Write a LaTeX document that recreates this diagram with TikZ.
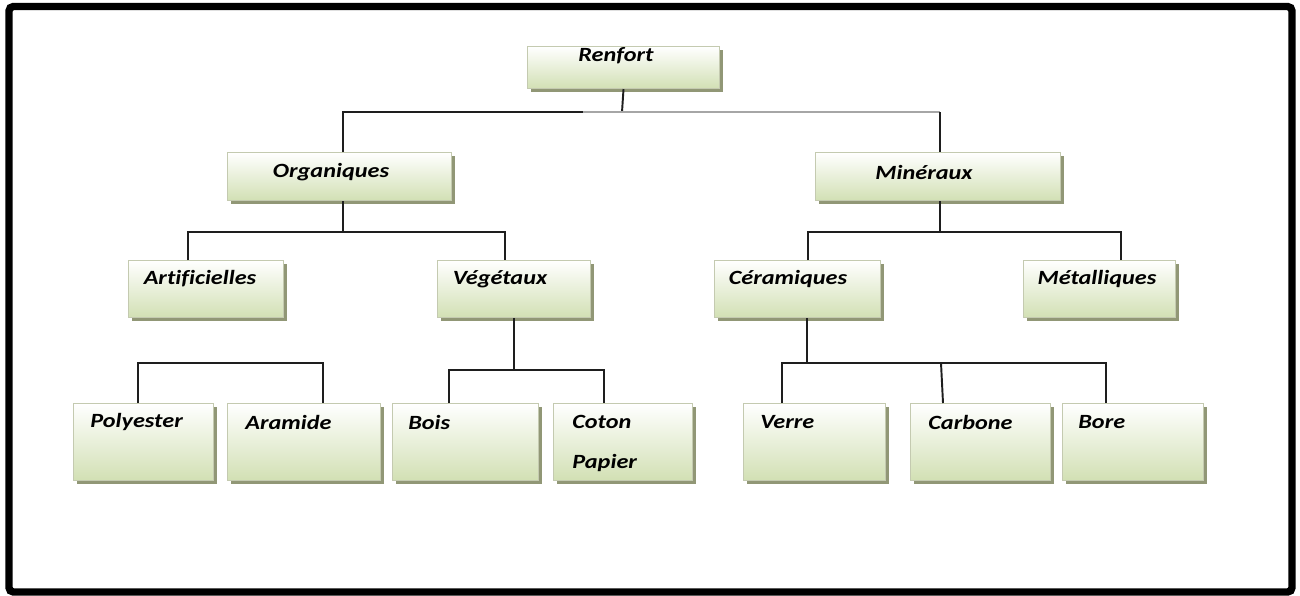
\documentclass[tikz,border=0pt]{standalone}
\usepackage{fontspec}
\setmainfont{Carlito}[FakeStretch=1.2, Ligatures=NoCommon]
\usetikzlibrary{shadows}
\definecolor{boxborder}{RGB}{196,202,176}
\definecolor{boxgreen}{RGB}{210,224,180}
\definecolor{boxmid}{RGB}{236,242,222}
\definecolor{shadowc}{RGB}{145,151,118}
\definecolor{linec}{RGB}{30,30,30}
\newcommand{\bx}[5]{\node[box, minimum width={(#4-#2)*0.56905pt}, minimum height={(#5-#3)*0.56905pt}] (#1) at (#2,#3) {};}
\begin{document}
\begin{tikzpicture}[x=0.02cm, y=-0.02cm,
  box/.style={draw=boxborder, line width=0.6pt, anchor=north west, inner sep=0pt,
    top color=white, middle color=boxmid, bottom color=boxgreen,
    drop shadow={shadow xshift=2pt, shadow yshift=-2pt, fill=shadowc, opacity=1}},
  txt/.style={inner sep=0pt, font=\fontsize{11.5}{13}\selectfont\bfseries\itshape, text=black},
  conn/.style={draw=linec, line width=1.1pt}]
\useasboundingbox (0,0) rectangle (1300,595);
\fill[white] (0,0) rectangle (1300,595);
\draw[line width=4.2pt, rounded corners=2.5pt] (9,6.5) rectangle (1292,592);
% boxes
\bx{ren}{527}{46}{719}{88}
\bx{org}{227}{152}{451}{200}
\bx{min}{815}{152}{1060}{200}
\bx{art}{128}{260}{283}{317}
\bx{veg}{437}{260}{590}{317}
\bx{cer}{714}{260}{880}{317}
\bx{met}{1023}{260}{1175}{317}
\bx{poly}{73}{403}{213}{480}
\bx{ara}{227}{403}{380}{480}
\bx{bois}{392}{403}{538}{480}
\bx{coton}{553}{403}{692}{480}
\bx{verre}{743}{403}{885}{480}
\bx{carb}{910}{403}{1050}{480}
\bx{bore}{1062}{403}{1203}{480}
% texts
\node[txt] (tren) at (616,56) {Renfort};
\node[txt] (torg) at (331,172) {Organiques};
\node[txt] (tmin) at (924,172) {Minéraux};
\node[txt] (tart) at (200,279) {Artificielles};
\node[txt] (tveg) at (500,279) {Végétaux};
\node[txt] (tcer) at (788,279) {Céramiques};
\node[txt] (tmet) at (1097,279) {Métalliques};
\node[txt, anchor=west] (tpoly) at (90,422) {Polyester};
\node[txt, anchor=west] (tara) at (245,422) {Aramide};
\node[txt, anchor=west] (tbois) at (408,422) {Bois};
\node[txt, anchor=west] (tcoton) at (572,422) {Coton};
\node[txt, anchor=west] (tpap) at (572,463) {Papier};
\node[txt, anchor=west] (tverre) at (760,422) {Verre};
\node[txt, anchor=west] (tcarb) at (928,422) {Carbone};
\node[txt, anchor=west] (tbore) at (1078,422) {Bore};
% junction coordinates
\coordinate (r0) at (622,112);
\coordinate (r1) at (343,112);
\coordinate (r2) at (940,112);
\coordinate (rg) at (583,112);
\coordinate (o0) at (343,232);
\coordinate (o1) at (188,232);
\coordinate (o2) at (505,232);
\coordinate (m0) at (940,232);
\coordinate (m1) at (808,232);
\coordinate (m2) at (1121,232);
\coordinate (p1) at (138,363);
\coordinate (p2) at (323,363);
\coordinate (v0) at (514,370);
\coordinate (v1) at (449,370);
\coordinate (v2) at (604,370);
\coordinate (c0) at (807,363);
\coordinate (c1) at (782,363);
\coordinate (c2) at (941,363);
\coordinate (c3) at (1106,363);
% connectors
\draw[conn] (ren.south) -- (r0);
\draw[conn] (org.north -| r1) -- (r1) -- (rg);
\draw[conn, draw=gray!70] (rg) -- (r2);
\draw[conn] (r2) -- (min.north -| r2);
\draw[conn] (org.south -| o0) -- (o0);
\draw[conn] (art.north -| o1) -- (o1) -- (o2) -- (veg.north -| o2);
\draw[conn] (min.south -| m0) -- (m0);
\draw[conn] (cer.north -| m1) -- (m1) -- (m2) -- (met.north -| m2);
\draw[conn] (poly.north -| p1) -- (p1) -- (p2) -- (ara.north -| p2);
\draw[conn] (veg.south -| v0) -- (v0);
\draw[conn] (bois.north -| v1) -- (v1) -- (v2) -- (coton.north -| v2);
\draw[conn] (cer.south -| c0) -- (c0);
\draw[conn] (verre.north -| c1) -- (c1) -- (c3) -- (bore.north -| c3);
\draw[conn] (c2) -- ([xshift=0.04cm]carb.north -| c2);
\end{tikzpicture}
\end{document}
